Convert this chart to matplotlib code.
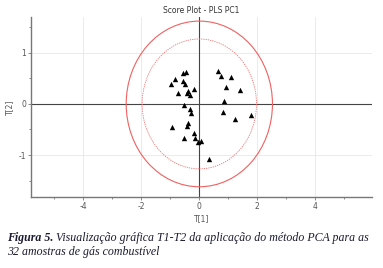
import matplotlib
matplotlib.use("Agg")
import matplotlib.pyplot as plt
from matplotlib.patches import Ellipse
import numpy as np

plt.rcParams['axes.unicode_minus'] = False

t1 = [0.66, 0.75, 1.10, 0.93, 1.41, 0.84, 0.81, 1.24, 1.79, 0.33,
      -0.56, -0.45, -0.83, -0.98, -0.55, -0.49, -0.72, -0.40, -0.19, -0.43,
      -0.33, -0.54, -0.33, -0.29, -0.39, -0.41, -0.94, -0.17, -0.54, -0.15,
      -0.06, 0.07]
t2 = [0.65, 0.54, 0.52, 0.33, 0.27, 0.05, -0.15, -0.29, -0.21, -1.08,
      0.60, 0.62, 0.48, 0.38, 0.45, 0.38, 0.22, 0.26, 0.29, 0.21,
      0.17, -0.03, -0.09, -0.18, -0.37, -0.43, -0.46, -0.56, -0.67, -0.66,
      -0.75, -0.72]
x_ticks = [-4, -2, 0, 2, 4]
y_ticks = [-1, 0, 1]
ellipse_outer = (2.52, 1.62)
ellipse_inner = (1.97, 1.27)

fig = plt.figure(figsize=(3.83, 2.68), dpi=100)
ax = fig.add_axes([31/383, 1-197/268, (372-31)/383, (197-17)/268])
ax.set_xlim(-5.8, 5.95)
ax.set_ylim(-1.82, 1.7)

ax.scatter(t1, t2, marker='^', s=15, color='black', zorder=4, linewidths=0)

ax.add_patch(Ellipse((0, 0), 2*ellipse_outer[0], 2*ellipse_outer[1], fill=False,
                     edgecolor='#f06060', lw=0.8, zorder=3))
ax.add_patch(Ellipse((0, 0), 2*ellipse_inner[0], 2*ellipse_inner[1], fill=False,
                     edgecolor='#f07070', lw=0.6, linestyle=(0, (1.5, 1.2)), zorder=3))

ax.axhline(0, color='#444444', lw=0.8, zorder=2)
ax.axvline(0, color='#444444', lw=0.8, zorder=2)

ax.set_xticks(x_ticks)
ax.set_yticks(y_ticks)
ax.set_xticks([-5, -3, -1, 1, 3, 5], minor=True)
ax.set_yticks([-1.5, -0.5, 0.5, 1.5], minor=True)
ax.grid(True, which='major', color='#e8e8e8', lw=0.6, zorder=0)
for s in ['top', 'right']:
    ax.spines[s].set_visible(False)
for s in ['left', 'bottom']:
    ax.spines[s].set_color('#777777')
    ax.spines[s].set_linewidth(1.0)
ax.tick_params(which='both', colors='#777777', labelcolor='#555555', labelsize=5.5,
               length=2, width=0.6, pad=1.5)
ax.tick_params(which='minor', length=1.5)

ax.set_title('Score Plot - PLS PC1', fontsize=5.5, color='#333333', pad=3)
ax.set_xlabel('T[1]', fontsize=5.5, color='#555555', labelpad=2)
ax.set_ylabel('T[2]', fontsize=5.5, color='#555555', labelpad=3)

cap_color = '#1a1a30'
fs = 9.0
x0 = 7
y1 = 1 - 241/268
y2 = 1 - 255/268
t_a = fig.text(x0/383, y1, 'Figura 5.', fontsize=fs, color=cap_color,
               family='Liberation Serif', style='italic', weight='bold', va='baseline')
t_b = fig.text(0, y1, ' Visualização gráfica T1-T2 da aplicação do método PCA para as',
               fontsize=fs, color=cap_color, family='Liberation Serif', style='italic',
               va='baseline')
t_c = fig.text(x0/383, y2, '32 amostras de gás combustível', fontsize=fs, color=cap_color,
               family='Liberation Serif', style='italic', va='baseline')
fig.canvas.draw()
r = fig.canvas.get_renderer()
wa = t_a.get_window_extent(r).width
wb = t_b.get_window_extent(r).width
scale = (370 - x0) / (wa + wb)
for t in (t_a, t_b, t_c):
    t.set_fontsize(fs * scale)
fig.canvas.draw()
wa = t_a.get_window_extent(r).width
t_b.set_x((x0 + wa) / 383)

fig.savefig('out.png', dpi=100)
